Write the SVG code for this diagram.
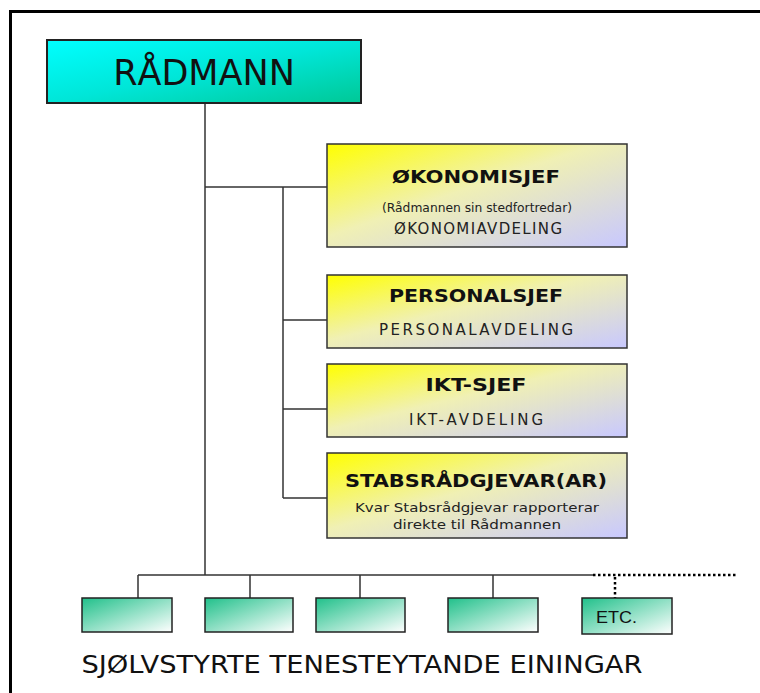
<svg xmlns="http://www.w3.org/2000/svg" width="760" height="693" viewBox="0 0 760 693">
<defs>
<linearGradient id="gCyan" x1="0" y1="0" x2="1" y2="1">
<stop offset="0" stop-color="#00FFFF"/>
<stop offset="0.5" stop-color="#00E6D8"/>
<stop offset="1" stop-color="#00C896"/>
</linearGradient>
<linearGradient id="gYel" x1="0" y1="0" x2="1" y2="1">
<stop offset="0" stop-color="#FFFF00"/>
<stop offset="0.45" stop-color="#F0F0B4"/>
<stop offset="1" stop-color="#C8C8FF"/>
</linearGradient>
<linearGradient id="gGrn" x1="0" y1="0" x2="1" y2="1">
<stop offset="0" stop-color="#20C08A"/>
<stop offset="1" stop-color="#FFFFFF"/>
</linearGradient>
<style>
.frame{stroke:#000;stroke-width:3;fill:none}
.conn{stroke:#333;stroke-width:1.5;fill:none}
.dot{stroke:#000;stroke-width:2.5;fill:none;stroke-dasharray:2.5 2.5}
.ybox{fill:url(#gYel);stroke:#333;stroke-width:1.5}
.gbox{fill:url(#gGrn);stroke:#222;stroke-width:1.5}
.top{fill:url(#gCyan);stroke:#222;stroke-width:2}
text{font-family:"DejaVu Sans",Verdana,sans-serif;fill:#111;text-anchor:middle}
.ttl{font-size:17px;font-weight:bold}
.sub{font-size:15px;fill:#222}
.sm{font-size:13px;fill:#222}
</style>
</defs>
<rect width="760" height="693" fill="#FFFFFF"/>
<path class="frame" d="M10.5,693 V11.5 H760"/>

<g id="connectors">
<path class="conn" d="M205,103 V575"/>
<path class="conn" d="M205,187 H327"/>
<path class="conn" d="M283,187 V498"/>
<path class="conn" d="M283,320 H327 M283,409 H327 M283,498 H327"/>
<path class="conn" d="M138,575 H593"/>
<path class="conn" d="M138,575 V598 M250,575 V598 M360,575 V598 M493,575 V598"/>
<path class="dot" d="M593,575 H737"/>
<path class="dot" d="M615,577 V598"/>
</g>

<g id="radmann">
<rect class="top" x="47" y="40" width="314" height="63"/>
<text x="204" y="85" style="font-size:35px">RÅDMANN</text>
</g>

<g id="okonomisjef">
<rect class="ybox" x="327" y="144" width="300" height="103"/>
<text class="ttl" x="476" y="183" textLength="168" lengthAdjust="spacingAndGlyphs">ØKONOMISJEF</text>
<text class="sm" x="477" y="212" textLength="190" lengthAdjust="spacingAndGlyphs">(Rådmannen sin stedfortredar)</text>
<text class="sub" x="478" y="234" textLength="168" lengthAdjust="spacing">ØKONOMIAVDELING</text>
</g>

<g id="personalsjef">
<rect class="ybox" x="327" y="275" width="300" height="73"/>
<text class="ttl" x="476" y="302" textLength="174" lengthAdjust="spacingAndGlyphs">PERSONALSJEF</text>
<text class="sub" x="476" y="335" textLength="194" lengthAdjust="spacing">PERSONALAVDELING</text>
</g>

<g id="iktsjef">
<rect class="ybox" x="327" y="364" width="300" height="73"/>
<text class="ttl" x="476" y="391" textLength="101" lengthAdjust="spacingAndGlyphs">IKT-SJEF</text>
<text class="sub" x="476" y="425" textLength="134" lengthAdjust="spacing">IKT-AVDELING</text>
</g>

<g id="stabsradgjevar">
<rect class="ybox" x="327" y="453" width="300" height="85"/>
<text class="ttl" x="476" y="487" textLength="262" lengthAdjust="spacingAndGlyphs">STABSRÅDGJEVAR(AR)</text>
<text class="sm" x="477" y="512" textLength="244" lengthAdjust="spacingAndGlyphs">Kvar Stabsrådgjevar rapporterar</text>
<text class="sm" x="477" y="529" textLength="168" lengthAdjust="spacingAndGlyphs">direkte til Rådmannen</text>
</g>

<g id="eining1"><rect class="gbox" x="82" y="598" width="90" height="34"/></g>
<g id="eining2"><rect class="gbox" x="205" y="598" width="88" height="34"/></g>
<g id="eining3"><rect class="gbox" x="316" y="598" width="89" height="34"/></g>
<g id="eining4"><rect class="gbox" x="448" y="598" width="90" height="34"/></g>
<g id="etc">
<rect class="gbox" x="582" y="598" width="90" height="36"/>
<text x="616.5" y="623" style="font-family:'Liberation Sans',Arial,sans-serif;font-size:17px" textLength="41" lengthAdjust="spacingAndGlyphs">ETC.</text>
</g>

<g id="caption">
<text x="362" y="673" style="font-size:25px" textLength="561" lengthAdjust="spacingAndGlyphs">SJØLVSTYRTE TENESTEYTANDE EININGAR</text>
</g>
</svg>
